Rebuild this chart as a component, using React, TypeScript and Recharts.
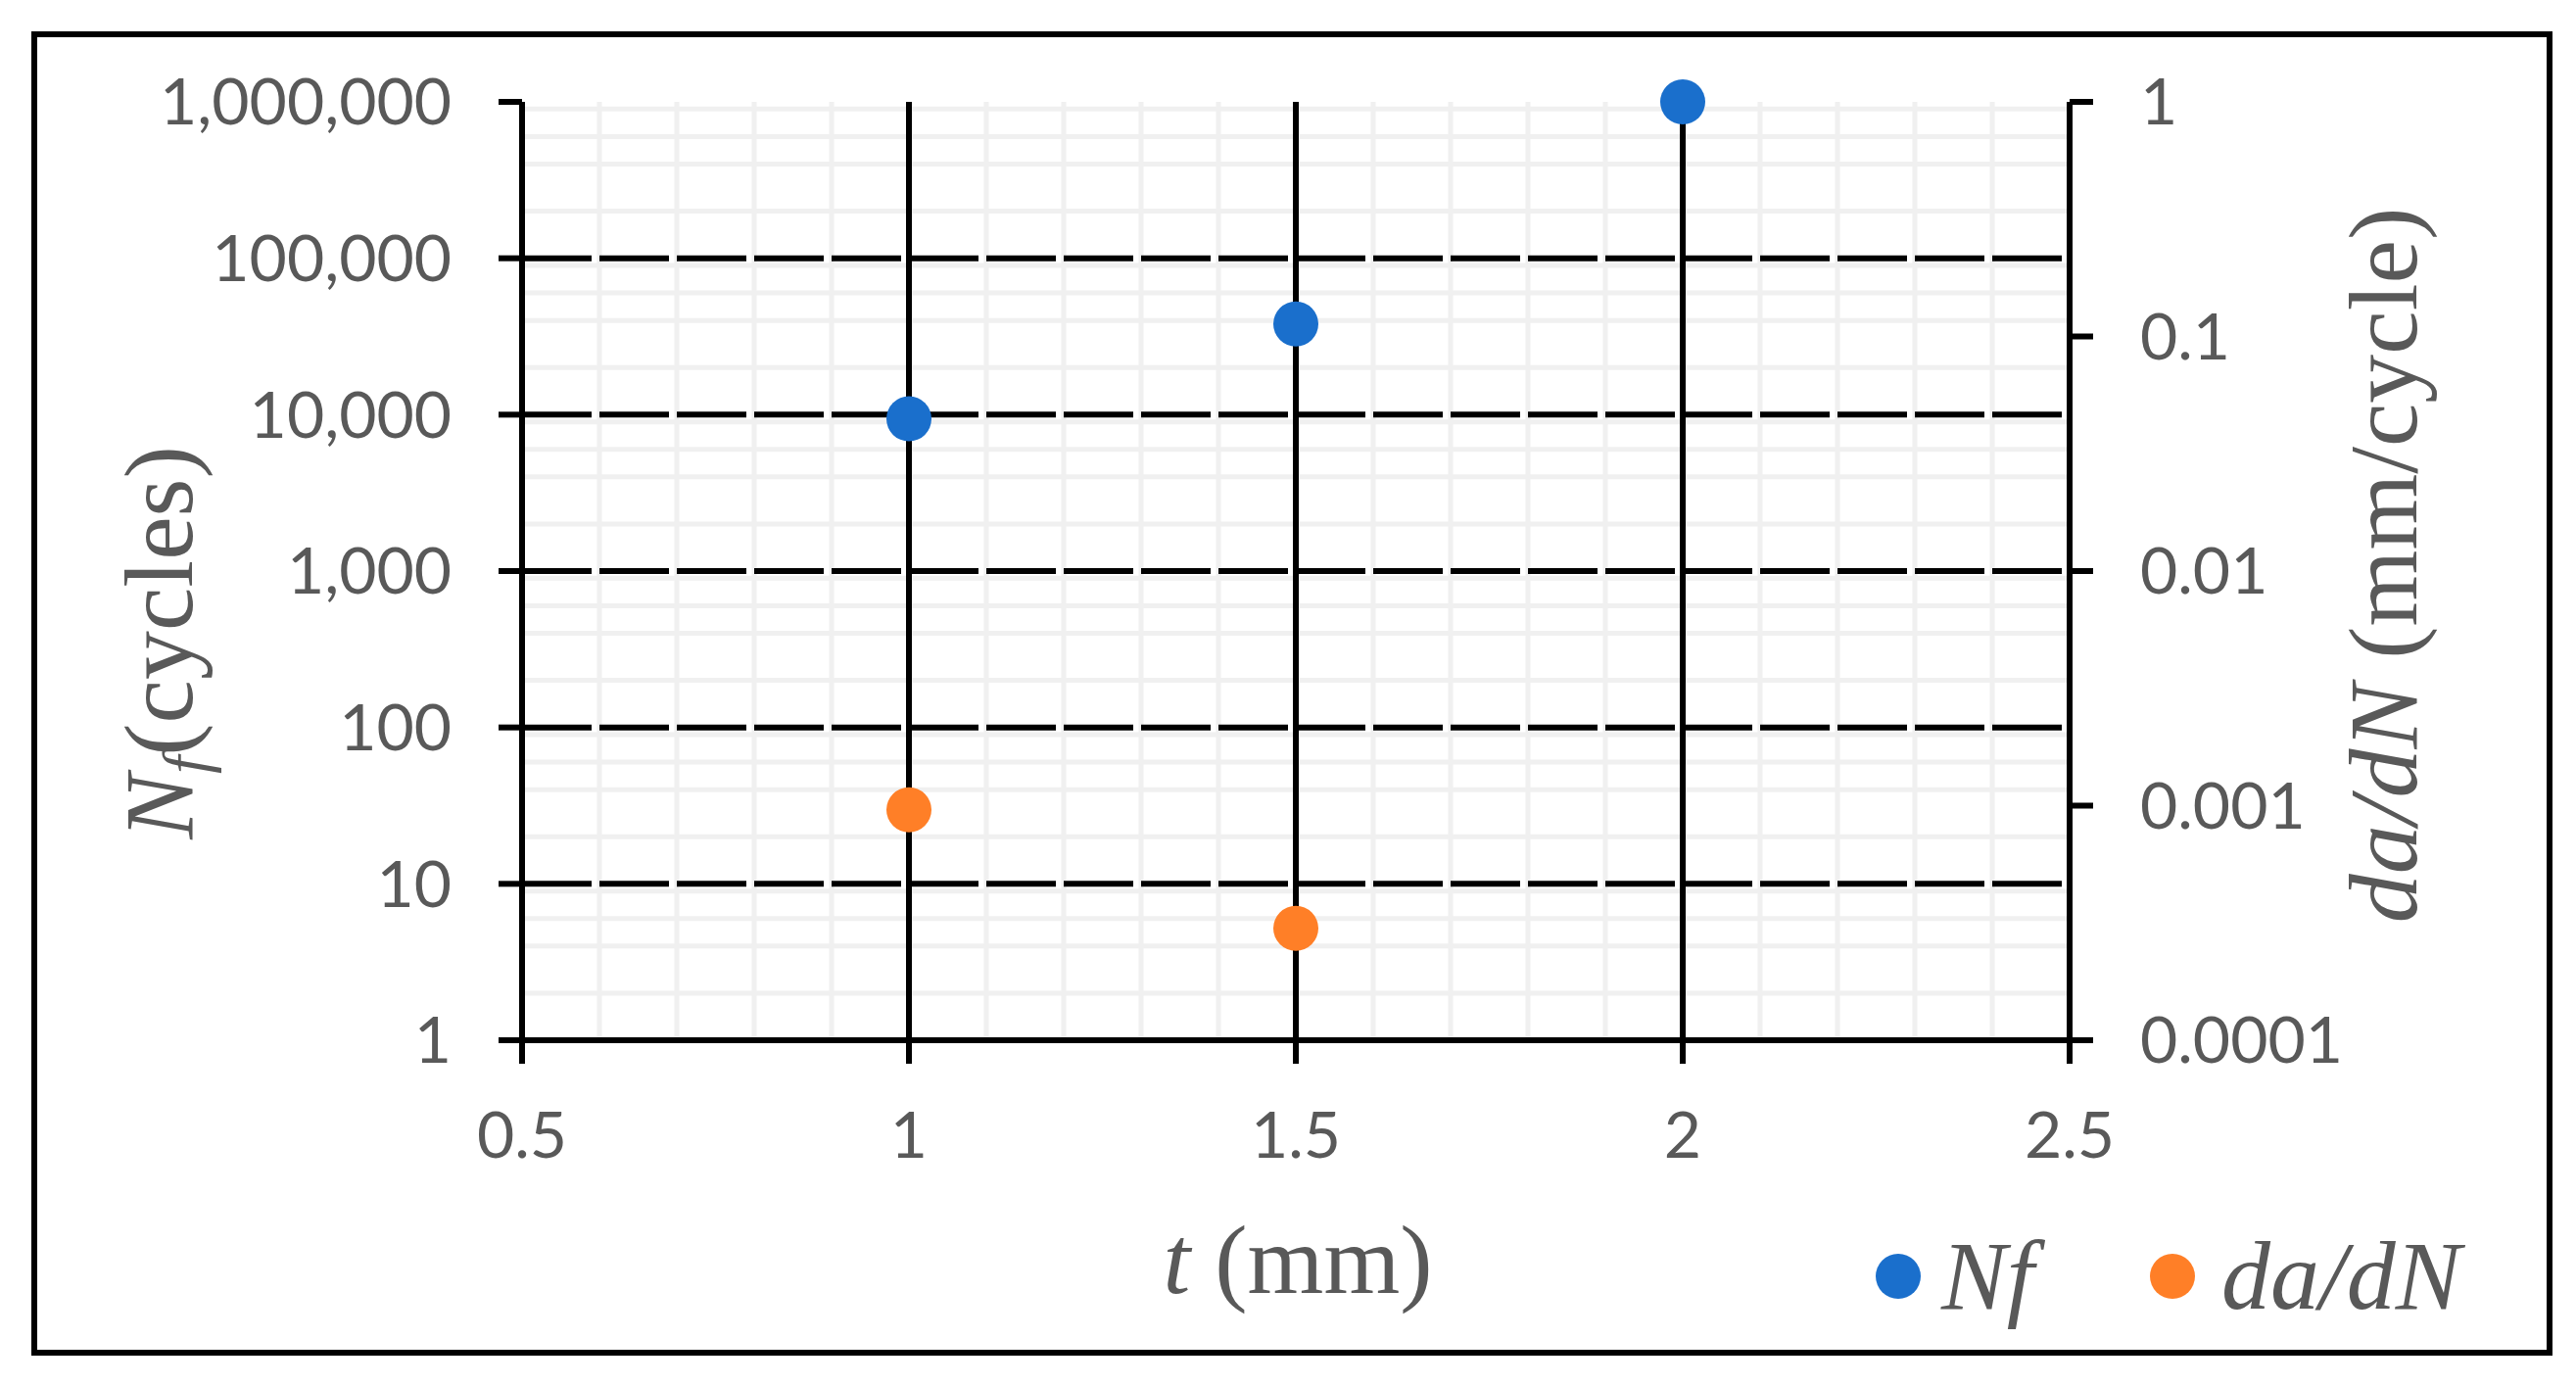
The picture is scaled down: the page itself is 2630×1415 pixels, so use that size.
import React from 'react';
import { ScatterChart, Scatter, XAxis, YAxis, CartesianGrid, Legend } from 'recharts';

// ---- data ----
const xTicks = [0.5, 1, 1.5, 2, 2.5];
const xMajorGrid = [1, 1.5, 2];
const xMinorGrid = [0.6, 0.7, 0.8, 0.9, 1.1, 1.2, 1.3, 1.4, 1.6, 1.7, 1.8, 1.9, 2.1, 2.2, 2.3, 2.4];

const nfTicks = [1, 10, 100, 1000, 10000, 100000, 1000000];
const nfTickLabels = ['1', '10', '100', '1,000', '10,000', '100,000', '1,000,000'];
const nfMajorGrid = [10, 100, 1000, 10000, 100000];
const nfMinorGrid = [
  2, 3, 4, 5, 6, 7, 8, 9,
  20, 30, 40, 50, 60, 70, 80, 90,
  200, 300, 400, 500, 600, 700, 800, 900,
  2000, 3000, 4000, 5000, 6000, 7000, 8000, 9000,
  20000, 30000, 40000, 50000, 60000, 70000, 80000, 90000,
  200000, 300000, 400000, 500000, 600000, 700000, 800000, 900000,
];

const daTicks = [0.0001, 0.001, 0.01, 0.1, 1];
const daTickLabels = ['0.0001', '0.001', '0.01', '0.1', '1'];

const nfT = [1, 1.5, 2];
const nfValues = [9400, 38000, 1000000];
const daT = [1, 1.5];
const daValues = [0.00096, 0.0003];

const seriesNames = ['Nf', 'da/dN'];
const seriesColors = ['#1A6FCC', '#FF7F27'];

const nfData = nfT.map((t, i) => ({ t, v: nfValues[i] }));
const daData = daT.map((t, i) => ({ t, v: daValues[i] }));

// ---- styles ----
const TICK_FONT = "Lato, 'Liberation Sans', Arial, sans-serif";
const SERIF = "'Liberation Serif', 'Times New Roman', serif";
const GRAY = '#595959';
const AXIS = { stroke: '#000', strokeWidth: 6 };

const tickStyle = { fontFamily: TICK_FONT, fontSize: 66, fill: GRAY };

const Dot = (color: string) => (props: any) => (
  <circle cx={props.cx} cy={props.cy} r={23} fill={color} />
);

const LeftTitle = () => (
  <text
    x={196}
    y={656}
    transform="rotate(-90, 196, 656)"
    textAnchor="middle"
    fontFamily={SERIF}
    fontSize={100}
    fill={GRAY}
  >
    <tspan fontStyle="italic">N</tspan>
    <tspan fontStyle="italic" fontSize={66} dy={16}>f</tspan>
    <tspan dy={-16}>(cycles)</tspan>
  </text>
);

const RightTitle = () => (
  <text
    x={2467}
    y={577}
    transform="rotate(-90, 2467, 577)"
    textAnchor="middle"
    fontFamily={SERIF}
    fontSize={100}
    fill={GRAY}
  >
    <tspan fontStyle="italic">da/dN</tspan>
    <tspan>{'\u00A0(mm/cycle)'}</tspan>
  </text>
);

const BottomTitle = () => (
  <text x={1325} y={1320} textAnchor="middle" fontFamily={SERIF} fontSize={100} fill={GRAY}>
    <tspan fontStyle="italic">t</tspan>
    <tspan>{'\u00A0(mm)'}</tspan>
  </text>
);

const renderLegend = (props: any) => {
  const payload = props.payload || [];
  return (
    <div style={{ display: 'flex', alignItems: 'center', height: 100 }}>
      {payload.map((entry: any, i: number) => (
        <div
          key={i}
          style={{ display: 'flex', alignItems: 'center', width: i === 0 ? 280 : 'auto' }}
        >
          <span
            style={{
              display: 'inline-block',
              width: 46,
              height: 46,
              borderRadius: '50%',
              background: entry.color,
            }}
          />
          <span
            style={{
              marginLeft: i === 0 ? 21 : 27,
              fontFamily: SERIF,
              fontStyle: 'italic',
              fontSize: 100,
              lineHeight: '100px',
              color: GRAY,
            }}
          >
            {entry.value}
          </span>
        </div>
      ))}
    </div>
  );
};

export default function App() {
  return (
    <div style={{ position: 'absolute', left: 0, top: 0, width: 2630, height: 1415, background: '#fff' }}>
      <div
        style={{
          position: 'absolute',
          left: 32,
          top: 32,
          width: 2574,
          height: 1352,
          border: '6px solid #000',
          boxSizing: 'border-box',
        }}
      />
      <div style={{ position: 'absolute', left: 0, top: 0 }}>
        <ScatterChart width={2630} height={1415} margin={{ top: 104, right: 0, bottom: 0, left: 0 }}>
          <CartesianGrid
            xAxisId="x"
            yAxisId="nf"
            horizontalValues={nfMinorGrid}
            verticalValues={xMinorGrid}
            stroke="#f0f0f0"
            strokeWidth={5}
          />
          <CartesianGrid
            xAxisId="x"
            yAxisId="nf"
            vertical={false}
            horizontalValues={nfMajorGrid}
            stroke="#000"
            strokeWidth={6}
            strokeDasharray="71 8"
          />
          <CartesianGrid
            xAxisId="x"
            yAxisId="nf"
            horizontal={false}
            verticalValues={xMajorGrid}
            stroke="#000"
            strokeWidth={6}
          />
          <XAxis
            xAxisId="x"
            dataKey="t"
            type="number"
            domain={[0.5, 2.5]}
            ticks={xTicks}
            height={353}
            axisLine={AXIS}
            tickLine={AXIS}
            tickSize={24}
            tickMargin={49}
            tick={tickStyle}
            label={<BottomTitle />}
          />
          <XAxis
            xAxisId="top"
            orientation="top"
            dataKey="t"
            type="number"
            domain={[0.5, 2.5]}
            height={0}
            axisLine={AXIS}
            tick={false}
            tickLine={false}
          />
          <YAxis
            yAxisId="nf"
            dataKey="v"
            type="number"
            scale="log"
            domain={[1, 1000000]}
            ticks={nfTicks}
            width={533}
            axisLine={AXIS}
            tickLine={AXIS}
            tickSize={24}
            tickMargin={48}
            tick={tickStyle}
            tickFormatter={(v: number) => nfTickLabels[nfTicks.indexOf(v)] ?? String(v)}
            label={<LeftTitle />}
          />
          <YAxis
            yAxisId="da"
            orientation="right"
            dataKey="v"
            type="number"
            scale="log"
            domain={[0.0001, 1]}
            ticks={daTicks}
            width={517}
            axisLine={AXIS}
            tickLine={AXIS}
            tickSize={24}
            tickMargin={48}
            tick={tickStyle}
            tickFormatter={(v: number) => daTickLabels[daTicks.indexOf(v)] ?? String(v)}
            label={<RightTitle />}
          />
          <Scatter
            name={seriesNames[0]}
            data={nfData}
            xAxisId="x"
            yAxisId="nf"
            fill={seriesColors[0]}
            shape={Dot(seriesColors[0])}
            isAnimationActive={false}
          />
          <Scatter
            name={seriesNames[1]}
            data={daData}
            xAxisId="x"
            yAxisId="da"
            fill={seriesColors[1]}
            shape={Dot(seriesColors[1])}
            isAnimationActive={false}
          />
          <Legend
            layout="horizontal"
            verticalAlign="middle"
            align="center"
            content={renderLegend}
            wrapperStyle={{ left: 1915, top: 1253, width: 700, height: 100 }}
          />
        </ScatterChart>
      </div>
    </div>
  );
}
